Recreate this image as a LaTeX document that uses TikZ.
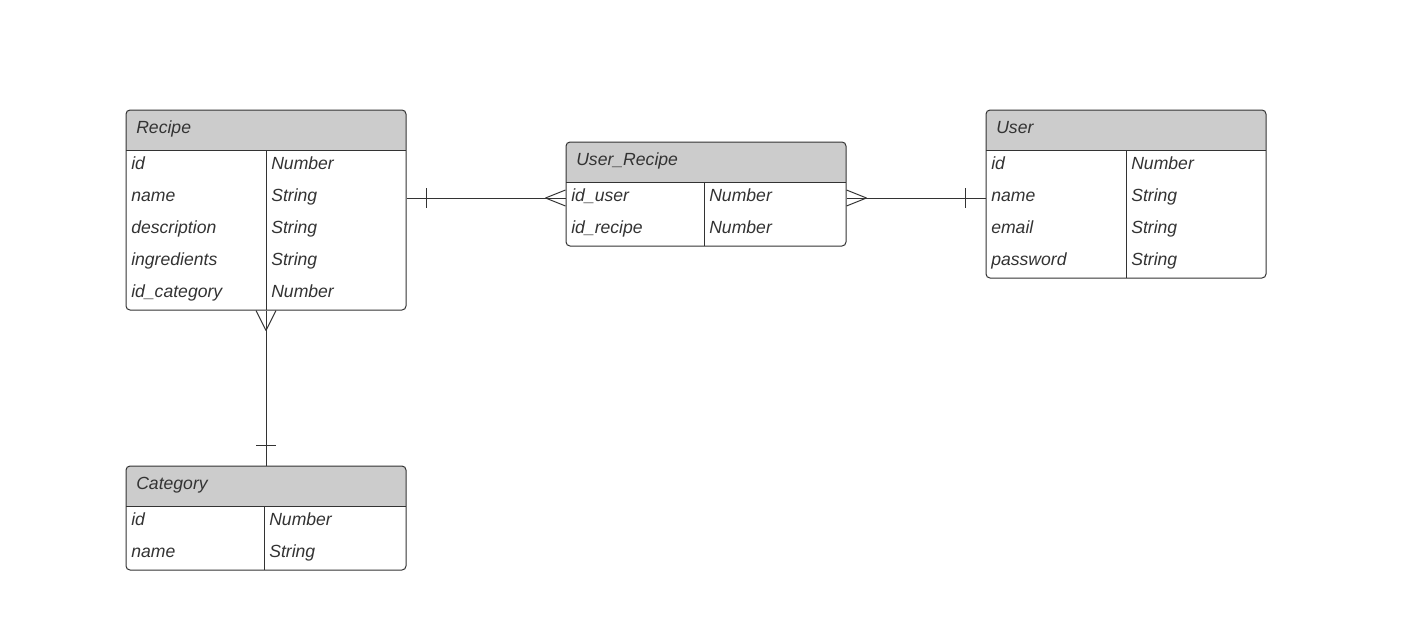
\documentclass[tikz,border=0pt]{standalone}
\usepackage{fontspec}
\setmainfont{Liberation Sans}
\usetikzlibrary{fit}
\definecolor{hdrgray}{HTML}{CCCCCC}
\definecolor{ink}{HTML}{333333}
\tikzset{
  box/.style={draw=ink, line width=0.75pt, rounded corners=3pt, inner sep=0pt},
  hdr/.style={fill=hdrgray},
  sep/.style={draw=ink, line width=0.75pt},
  txt/.style={anchor=base west, inner sep=0pt, text=ink, font=\itshape\fontsize{13.2}{15}\selectfont},
  rel/.style={draw=ink, line width=0.75pt},
}
\newcommand{\entityhead}[5]{% name x1 y1 x2 y2
  \begin{scope}
    \clip[rounded corners=3pt] (#2,#3) rectangle (#4,#5);
    \fill[hdr] (#2,#3) rectangle (#4,#3+40);
  \end{scope}
  \node[box, fit={(#2,#3) (#4,#5)}] (#1) {};
  \draw[sep] (#2,#3+40) -- (#4,#3+40);
}
\begin{document}
\begin{tikzpicture}[x=0.75pt,y=-0.75pt]
\useasboundingbox (0,0) rectangle (1412,632);
\fill[white] (0,0) rectangle (1412,632);

% Recipe
\entityhead{recipe}{126}{110}{406}{310}
\draw[sep] (266,150) -- (266,310);
\node[txt] (recipe-t) at (136,133) {Recipe};
\node[txt] (recipe-a1) at (131,169) {id};
\node[txt] (recipe-b1) at (271,169) {Number};
\node[txt] (recipe-a2) at (131,201) {name};
\node[txt] (recipe-b2) at (271,201) {String};
\node[txt] (recipe-a3) at (131,233) {description};
\node[txt] (recipe-b3) at (271,233) {String};
\node[txt] (recipe-a4) at (131,265) {ingredients};
\node[txt] (recipe-b4) at (271,265) {String};
\node[txt] (recipe-a5) at (131,297) {id\_category};
\node[txt] (recipe-b5) at (271,297) {Number};

% Category
\entityhead{category}{126}{466}{406}{570}
\draw[sep] (264,506) -- (264,570);
\node[txt] (category-t) at (136,489) {Category};
\node[txt] (category-a1) at (131,525) {id};
\node[txt] (category-b1) at (269,525) {Number};
\node[txt] (category-a2) at (131,557) {name};
\node[txt] (category-b2) at (269,557) {String};

% User_Recipe
\entityhead{userrecipe}{566}{142}{846}{246}
\draw[sep] (704,182) -- (704,246);
\node[txt] (ur-t) at (576,165) {User\_Recipe};
\node[txt] (ur-a1) at (571,201) {id\_user};
\node[txt] (ur-b1) at (709,201) {Number};
\node[txt] (ur-a2) at (571,233) {id\_recipe};
\node[txt] (ur-b2) at (709,233) {Number};

% User
\entityhead{user}{986}{110}{1266}{278}
\draw[sep] (1126,150) -- (1126,278);
\node[txt] (user-t) at (996,133) {User};
\node[txt] (user-a1) at (991,169) {id};
\node[txt] (user-b1) at (1131,169) {Number};
\node[txt] (user-a2) at (991,201) {name};
\node[txt] (user-b2) at (1131,201) {String};
\node[txt] (user-a3) at (991,233) {email};
\node[txt] (user-b3) at (1131,233) {String};
\node[txt] (user-a4) at (991,265) {password};
\node[txt] (user-b4) at (1131,265) {String};

% connection points
\coordinate (rE) at (recipe.east |- 0,198);
\coordinate (urW) at (userrecipe.west |- 0,198);
\coordinate (urE) at (userrecipe.east |- 0,198);
\coordinate (uW) at (user.west |- 0,198);
\coordinate (rS) at (recipe.south -| 266,0);
\coordinate (cN) at (category.north -| 266,0);

% Recipe -- User_Recipe
\draw[rel] (rE) -- (urW);
\draw[rel] ([xshift=15pt]rE) ++(0,-10) -- ++(0,20);
\draw[rel] ([xshift=-15pt]urW) -- ++(20,-8);
\draw[rel] ([xshift=-15pt]urW) -- ++(20,8);

% User_Recipe -- User
\draw[rel] (urE) -- (uW);
\draw[rel] ([xshift=15pt]urE) -- ++(-20,-8);
\draw[rel] ([xshift=15pt]urE) -- ++(-20,8);
\draw[rel] ([xshift=-15pt]uW) ++(0,-10) -- ++(0,20);

% Recipe -- Category
\draw[rel] (rS) -- (cN);
\draw[rel] ([yshift=-15pt]rS) -- ++(-10,-20);
\draw[rel] ([yshift=-15pt]rS) -- ++(10,-20);
\draw[rel] ([yshift=15pt]cN) ++(-10,0) -- ++(20,0);
\end{tikzpicture}
\end{document}
